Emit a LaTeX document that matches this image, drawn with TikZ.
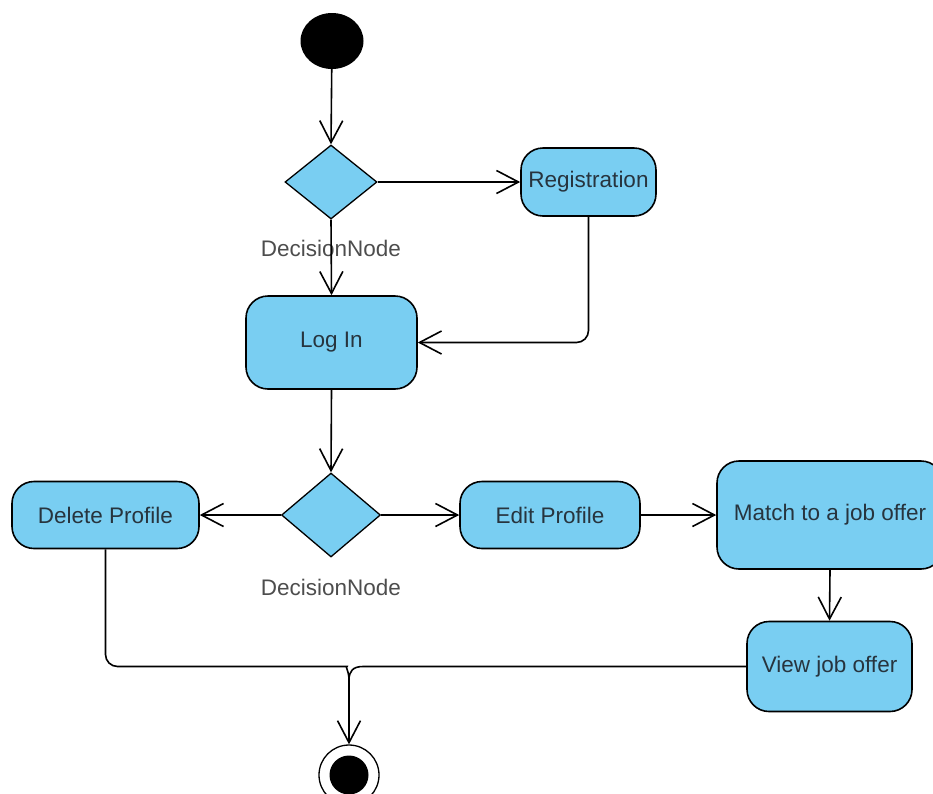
\documentclass[tikz,border=0pt]{standalone}
\usepackage{fontspec}
\setmainfont{Liberation Sans}
\usetikzlibrary{shapes.geometric,arrows.meta}
\definecolor{boxblue}{HTML}{79CEF2}
\definecolor{txt}{HTML}{27343E}
\definecolor{lbl}{HTML}{4D4D4D}
\begin{document}
\begin{tikzpicture}[x=1pt,y=-1pt,
  act/.style={draw=black,line width=1.6pt,fill=boxblue,rounded corners=22pt,inner sep=0pt,
    font=\fontsize{22.5}{27}\selectfont,text=txt},
  dec/.style={diamond,draw=black,line width=1.3pt,fill=boxblue,inner sep=0pt},
  lab/.style={font=\fontsize{22.5}{27}\selectfont,text=lbl,inner sep=0pt},
  conn/.style={line width=1.6pt},
  flow/.style={line width=1.6pt,-{Straight Barb[length=22pt,width=23pt,line width=1.6pt]}}
]
\useasboundingbox (0,0) rectangle (933,793);
\clip (0,0) rectangle (933,793);
% nodes
\node[ellipse,fill=black,minimum width=63pt,minimum height=56pt,inner sep=0pt] (start) at (332,41) {};
\node[dec,minimum width=92pt,minimum height=74pt] (d1) at (331,182) {};
\node[lab] (d1lab) at (331,248) {DecisionNode};
\node[act,minimum width=135pt,minimum height=68pt] (reg) at (588.5,182) {Registration};
\node[act,minimum width=171pt,minimum height=93pt] (login) at (331.5,342.5) {Log In};
\node[dec,minimum width=99pt,minimum height=84pt] (d2) at (331,515) {};
\node[lab] (d2lab) at (331,587) {DecisionNode};
\node[act,minimum width=187pt,minimum height=67pt] (del) at (105.5,515) {Delete Profile};
\node[act,minimum width=180pt,minimum height=67pt] (edit) at (550,515) {Edit Profile};
\node[act,minimum width=226pt,minimum height=108pt] (match) at (830,515) {Match to a job offer};
\node[act,minimum width=165pt,minimum height=90pt] (view) at (829.5,666.5) {View job offer};
\node[circle,draw=black,line width=1.3pt,fill=white,minimum size=60pt,inner sep=0pt] (final) at (349,775) {};
\node[circle,fill=black,minimum size=39pt,inner sep=0pt] (finaldot) at (final.center) {};
\coordinate (ml) at (335,666.5);
\coordinate (mr) at (363,666.5);
\coordinate (m) at (349,680);
% connectors
\draw[flow] (start) -- (d1.north);
\draw[flow] (d1.east) -- (reg.west);
\draw[flow] (d1.south) -- (login.north);
\draw[flow,rounded corners=12pt] (reg.south) |- (login.east);
\draw[flow] (login.south) -- (d2.north);
\draw[flow] (d2.west) -- (del.east);
\draw[flow] (d2.east) -- (edit.west);
\draw[flow] (edit.east) -- (match.west);
\draw[flow] (match.south) -- (view.north);
\draw[conn,rounded corners=12pt] (del.south) |- (ml) .. controls (345,666.5) and (349,671) .. (m);
\draw[conn] (view.west) -- (mr) .. controls (353,666.5) and (349,671) .. (m);
\draw[flow] (m) -- (final.north);
\end{tikzpicture}
\end{document}
